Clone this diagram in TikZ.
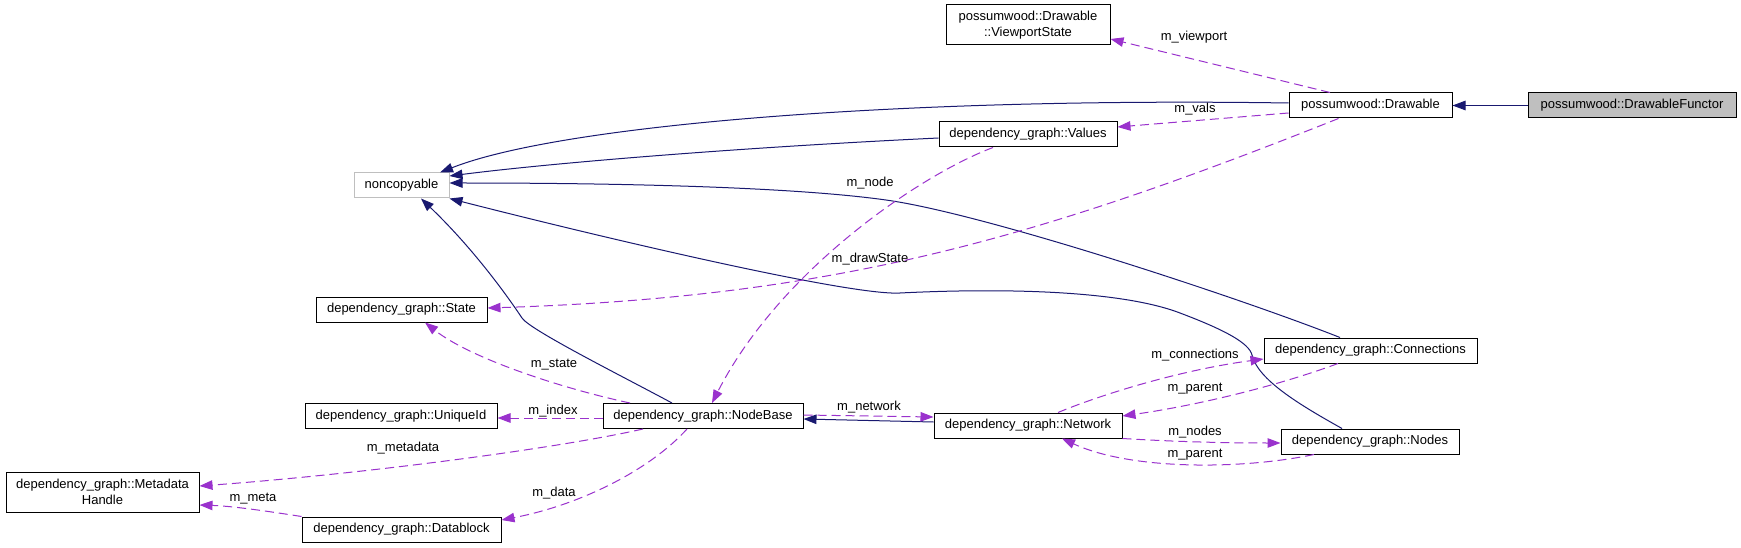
\documentclass[tikz,border=0pt]{standalone}
\usepackage{fontspec}
\setmainfont{Liberation Sans}
\usetikzlibrary{arrows.meta}
\definecolor{navy}{HTML}{191970}
\definecolor{orchid}{HTML}{9A32CD}
\definecolor{boxgray}{HTML}{BFBFBF}
\begin{document}
\begin{tikzpicture}[x=1pt,y=-1pt,font=\fontsize{13}{15.5}\selectfont,
  cls/.style={draw=black, line width=1pt, fill=white, minimum height=25pt, inner sep=0pt, align=center},
  inh/.style={draw=navy, line width=1pt, -{Triangle[length=13pt,width=9.5pt]}},
  use/.style={draw=orchid, line width=1pt, dash pattern=on 9pt off 5pt, -{Triangle[length=13pt,width=9.5pt]}},
  lbl/.style={inner sep=0pt}]
\fill[white] (0,0) rectangle (1741,548);
\useasboundingbox (0,0) rectangle (1741,548);
% classes
\node[cls, draw=boxgray, minimum width=95pt] (noncopyable) at (401.5,185.5) {noncopyable};
\node[cls, minimum width=164pt, minimum height=40pt] (viewport) at (1028,25) {possumwood::Drawable\\::ViewportState};
\node[cls, minimum width=163pt] (drawable) at (1370.5,105.5) {possumwood::Drawable};
\node[cls, fill=boxgray, minimum width=208pt] (functor) at (1632,105.5) {possumwood::DrawableFunctor};
\node[cls, minimum width=178pt] (values) at (1028,134.5) {dependency\_graph::Values};
\node[cls, minimum width=171pt] (state) at (401.5,309.5) {dependency\_graph::State};
\node[cls, minimum width=192pt] (uniqueid) at (401,416) {dependency\_graph::UniqueId};
\node[cls, minimum width=193pt, minimum height=40pt] (metadata) at (102.5,492) {dependency\_graph::Metadata\\Handle};
\node[cls, minimum width=199pt] (datablock) at (401.5,529.5) {dependency\_graph::Datablock};
\node[cls, minimum width=200pt] (nodebase) at (703,416) {dependency\_graph::NodeBase};
\node[cls, minimum width=188pt] (network) at (1028,425.5) {dependency\_graph::Network};
\node[cls, minimum width=213pt] (connections) at (1370.5,350.5) {dependency\_graph::Connections};
\node[cls, minimum width=178pt] (nodes) at (1370,441.5) {dependency\_graph::Nodes};
% inheritance
\draw[inh] ([yshift=2.5pt]drawable.west) .. controls (900,97) and (560,125) .. ([xshift=38.5pt]noncopyable.north);
\draw[inh] ([yshift=-3.5pt]values.west) .. controls (750,147) and (560,162) .. ([yshift=9.5pt]noncopyable.east);
\draw[inh] ([xshift=-30.5pt]connections.north) .. controls (1240,298) and (986,214) .. (886,200) .. controls (786,186) and (600,183) .. ([yshift=2.5pt]noncopyable.east);
\draw[inh] ([xshift=-28pt]nodes.north) .. controls (1300,405) and (1258,380) .. (1252,355) .. controls (1249,343) and (1225,330) .. (1180,313) .. controls (1120,290) and (1000,288) .. (900,293) .. controls (850,296) and (600,237) .. (noncopyable.south east);
\draw[inh] ([xshift=-31pt]nodebase.north) .. controls (620,375) and (530,330) .. (522,318) .. controls (516,309) and (480,255) .. ([xshift=19.5pt]noncopyable.south);
\draw[inh] ([yshift=3.5pt]network.west) -- ([yshift=-3pt]nodebase.east);
\draw[inh] (functor.west) -- (drawable.east);
% usage
\draw[use] ([xshift=-40.5pt]drawable.north) -- ([yshift=-14pt]viewport.east);
\draw[use] ([yshift=-7.5pt]drawable.west) -- ([yshift=7.5pt]values.east);
\draw[use] ([xshift=-32pt]drawable.south) .. controls (1038,238) and (837,297) .. ([yshift=1.5pt]state.east);
\draw[use] ([xshift=-35pt]values.south) .. controls (920,175) and (780,270) .. ([xshift=9pt]nodebase.north);
\draw[use] ([xshift=-73pt]nodebase.north) .. controls (560,388) and (470,358) .. ([xshift=23.5pt]state.south);
\draw[use] ([yshift=-2pt]nodebase.west) -- ([yshift=-2pt]uniqueid.east);
\draw[use] ([xshift=-60pt]nodebase.south) .. controls (550,450) and (350,475) .. ([yshift=6pt]metadata.east);
\draw[use] ([xshift=-16pt]nodebase.south) .. controls (650,470) and (580,505) .. ([yshift=9.5pt]datablock.east);
\draw[use] (datablock.north west) .. controls (260,510) and (230,506) .. ([yshift=-13pt]metadata.east);
\draw[use] ([yshift=1pt]nodebase.east) -- ([yshift=8.5pt]network.west);
\draw[use] ([xshift=30pt]network.north) .. controls (1100,395) and (1180,370) .. ([yshift=-8.5pt]connections.west);
\draw[use] ([xshift=-32.5pt]connections.south) .. controls (1280,385) and (1200,405) .. ([yshift=9.5pt]network.east);
\draw[use] (network.south east) .. controls (1180,442) and (1230,443) .. ([yshift=-1.5pt]nodes.west);
\draw[use] ([xshift=-56pt]nodes.south) .. controls (1240,470) and (1130,470) .. ([xshift=34pt]network.south);
% labels
\node[lbl] (lviewport) at (1194,37) {m\_viewport};
\node[lbl] (lvals) at (1195,109) {m\_vals};
\node[lbl] (lnode) at (870,183) {m\_node};
\node[lbl] (ldrawstate) at (870,259) {m\_drawState};
\node[lbl] (lstate) at (554,365) {m\_state};
\node[lbl] (lindex) at (553,411) {m\_index};
\node[lbl] (lmetadata) at (403,448) {m\_metadata};
\node[lbl] (lmeta) at (253,499) {m\_meta};
\node[lbl] (ldata) at (554,493) {m\_data};
\node[lbl] (lnetwork) at (869,407) {m\_network};
\node[lbl] (lconnections) at (1195,355) {m\_connections};
\node[lbl] (lparent1) at (1195,389) {m\_parent};
\node[lbl] (lnodes) at (1195,432) {m\_nodes};
\node[lbl] (lparent2) at (1195,455) {m\_parent};
\end{tikzpicture}
\end{document}
